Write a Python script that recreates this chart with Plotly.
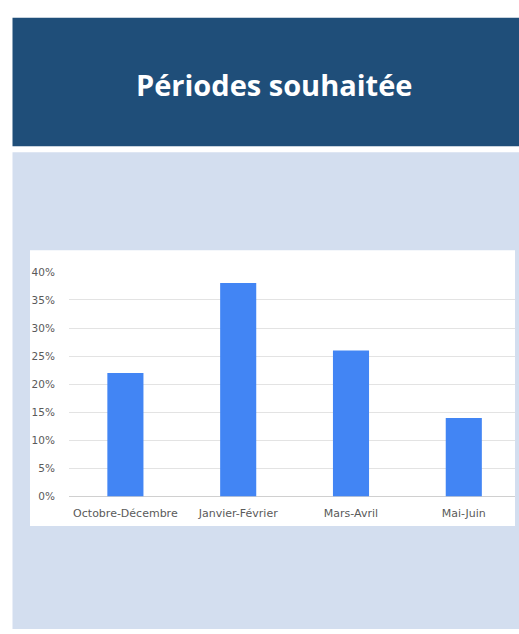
import plotly.graph_objects as go

categories = ["Octobre-Décembre", "Janvier-Février", "Mars-Avril", "Mai-Juin"]
values = [0.22, 0.38, 0.26, 0.14]
y_ticks = [0, 0.05, 0.10, 0.15, 0.20, 0.25, 0.30, 0.35, 0.40]
y_tick_labels = ["0%", "5%", "10%", "15%", "20%", "25%", "30%", "35%", "40%"]
title_text = "Périodes souhaitée"

W, H = 519, 634

def px(x):
    return x / W

def py(y):
    return (H - y) / H

fig = go.Figure()
fig.add_trace(go.Bar(x=categories, y=values, marker_color="#4285F4",
                     marker_line_width=0, width=0.32))

shapes = [
    dict(type="rect", xref="paper", yref="paper", x0=px(12.5), x1=px(520), y0=py(143), y1=py(12),
         fillcolor="#1F4E79", line_width=0, layer="below"),
    dict(type="rect", xref="paper", yref="paper", x0=px(12.5), x1=px(520), y0=py(635), y1=py(149),
         fillcolor="#D3DEEF", line_width=0, layer="below"),
    dict(type="rect", xref="paper", yref="paper", x0=px(30), x1=px(515), y0=py(530), y1=py(249),
         fillcolor="#FFFFFF", line_width=0, layer="below"),
]

fig.update_layout(
    width=W, height=H,
    margin=dict(l=0, r=0, t=0, b=0),
    paper_bgcolor="#FFFFFF",
    plot_bgcolor="rgba(0,0,0,0)",
    showlegend=False,
    bargap=0.68,
    shapes=shapes,
    annotations=[dict(text="<b>" + title_text + "</b>", x=px(274), y=py(80), xref="paper", yref="paper",
                      showarrow=False, font=dict(family="Open Sans", size=29, color="#FFFFFF"),
                      xanchor="center", yanchor="middle")],
    xaxis=dict(domain=[px(69), px(515)], range=[-0.5, 3.454], showgrid=False,
               ticks="outside", ticklen=6, tickcolor="rgba(0,0,0,0)",
               tickfont=dict(family="DejaVu Sans", size=11, color="#5a5a5a"),
               showline=False, zeroline=False, fixedrange=True),
    yaxis=dict(domain=[py(500), py(271)], range=[0, 0.40], tickvals=y_ticks, ticktext=y_tick_labels,
               showgrid=True, gridcolor="#E3E3E3", gridwidth=1,
               zeroline=True, zerolinecolor="#D0D0D0", zerolinewidth=1,
               ticks="outside", ticklen=11, tickcolor="rgba(0,0,0,0)",
               tickfont=dict(family="DejaVu Sans", size=10.5, color="#5a5a5a"),
               showline=False, fixedrange=True),
)

post = (
    "document.documentElement.style.overflow='hidden';"
    "document.body.style.margin='0';document.body.style.overflow='hidden';"
    "var g=document.getElementsByClassName('plotly-graph-div')[0];"
    "g.style.position='fixed';g.style.left='0px';g.style.top='0px';"
)
fig.write_html("out.html", config={"displayModeBar": False}, post_script=post)
